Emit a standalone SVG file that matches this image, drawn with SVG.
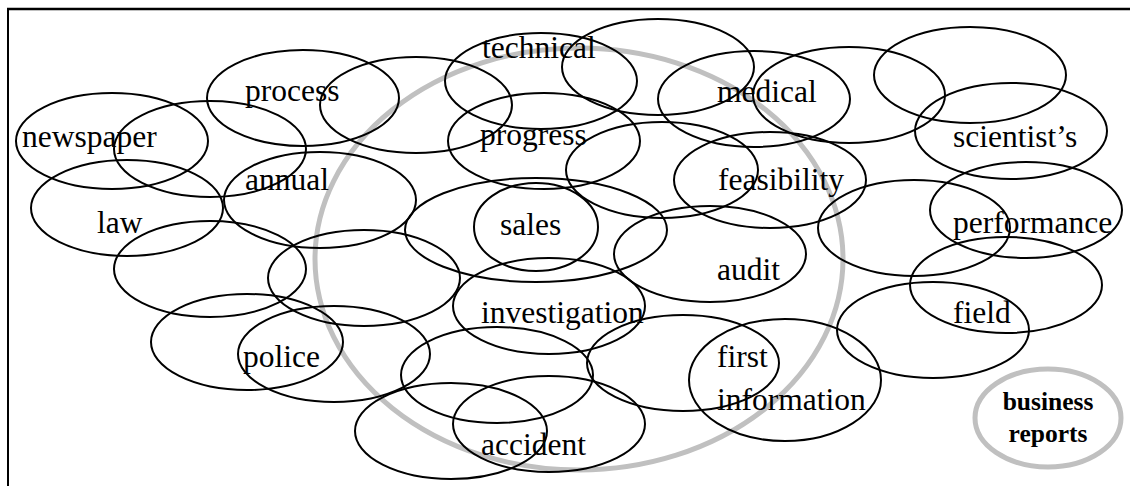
<svg xmlns="http://www.w3.org/2000/svg" width="1130" height="486" viewBox="0 0 1130 486">
<style>
.e{fill:none;stroke:#000;stroke-width:2}
.g{fill:none;stroke:#c0c0c0;stroke-width:5}
.t{font-family:"Liberation Serif","Times New Roman",serif;font-size:31.5px;fill:#000}
.b{font-family:"Liberation Serif","Times New Roman",serif;font-size:25.5px;font-weight:bold;fill:#000;text-anchor:middle}
</style>
<rect width="1130" height="486" fill="#fff"/>
<g id="frame">
<line x1="7" y1="9" x2="1130" y2="9" stroke="#000" stroke-width="2.5"/>
<line x1="8" y1="8" x2="8" y2="486" stroke="#000" stroke-width="2"/>
</g>
<g id="core">
<ellipse class="g" cx="579" cy="259" rx="264" ry="211"/>
</g>
<g id="ellipses">
<ellipse class="e" cx="112" cy="141" rx="96" ry="48"/>
<ellipse class="e" cx="210" cy="149" rx="96" ry="48"/>
<ellipse class="e" cx="303" cy="98" rx="96" ry="48"/>
<ellipse class="e" cx="416" cy="105" rx="96" ry="48"/>
<ellipse class="e" cx="541" cy="81" rx="96" ry="48"/>
<ellipse class="e" cx="658" cy="67" rx="96" ry="48"/>
<ellipse class="e" cx="754" cy="99" rx="96" ry="48"/>
<ellipse class="e" cx="849" cy="95" rx="96" ry="48"/>
<ellipse class="e" cx="970" cy="75" rx="96" ry="48"/>
<ellipse class="e" cx="1011" cy="131" rx="96" ry="48"/>
<ellipse class="e" cx="127" cy="208" rx="96" ry="48"/>
<ellipse class="e" cx="320" cy="200" rx="96" ry="48"/>
<ellipse class="e" cx="544" cy="141" rx="96" ry="48"/>
<ellipse class="e" cx="662" cy="170" rx="96" ry="48"/>
<ellipse class="e" cx="770" cy="180" rx="96" ry="48"/>
<ellipse class="e" cx="536" cy="230" rx="131" ry="52"/>
<ellipse class="e" cx="536" cy="227" rx="62" ry="44"/>
<ellipse class="e" cx="710" cy="254" rx="96" ry="48"/>
<ellipse class="e" cx="914" cy="228" rx="96" ry="48"/>
<ellipse class="e" cx="1026" cy="210" rx="96" ry="48"/>
<ellipse class="e" cx="210" cy="269" rx="96" ry="48"/>
<ellipse class="e" cx="364" cy="278" rx="96" ry="48"/>
<ellipse class="e" cx="549" cy="306" rx="96" ry="48"/>
<ellipse class="e" cx="1006" cy="285" rx="96" ry="48"/>
<ellipse class="e" cx="933" cy="330" rx="96" ry="48"/>
<ellipse class="e" cx="247" cy="342" rx="96" ry="48"/>
<ellipse class="e" cx="334" cy="354" rx="96" ry="48"/>
<ellipse class="e" cx="497" cy="375" rx="96" ry="48"/>
<ellipse class="e" cx="683" cy="363" rx="96" ry="48"/>
<ellipse class="e" cx="785" cy="380" rx="96" ry="61"/>
<ellipse class="e" cx="451" cy="431" rx="96" ry="48"/>
<ellipse class="e" cx="549" cy="424" rx="96" ry="48"/>
</g>
<g id="labels">
<text class="t" x="22" y="147">newspaper</text>
<text class="t" x="245" y="101">process</text>
<text class="t" x="482" y="58">technical</text>
<text class="t" x="717" y="102">medical</text>
<text class="t" x="953" y="147">scientist’s</text>
<text class="t" x="245" y="190">annual</text>
<text class="t" x="97" y="233">law</text>
<text class="t" x="480" y="145">progress</text>
<text class="t" x="718" y="190">feasibility</text>
<text class="t" x="500" y="235">sales</text>
<text class="t" x="953" y="233">performance</text>
<text class="t" x="717" y="280">audit</text>
<text class="t" x="481" y="323">investigation</text>
<text class="t" x="953" y="323">field</text>
<text class="t" x="243" y="367">police</text>
<text class="t" x="717" y="367">first</text>
<text class="t" x="717" y="410">information</text>
<text class="t" x="481" y="455">accident</text>
</g>
<g id="business-reports">
<ellipse class="g" cx="1048" cy="418" rx="73" ry="49" stroke-width="4.5"/>
<text class="b" x="1048" y="410">business</text>
<text class="b" x="1048" y="442">reports</text>
</g>
</svg>
